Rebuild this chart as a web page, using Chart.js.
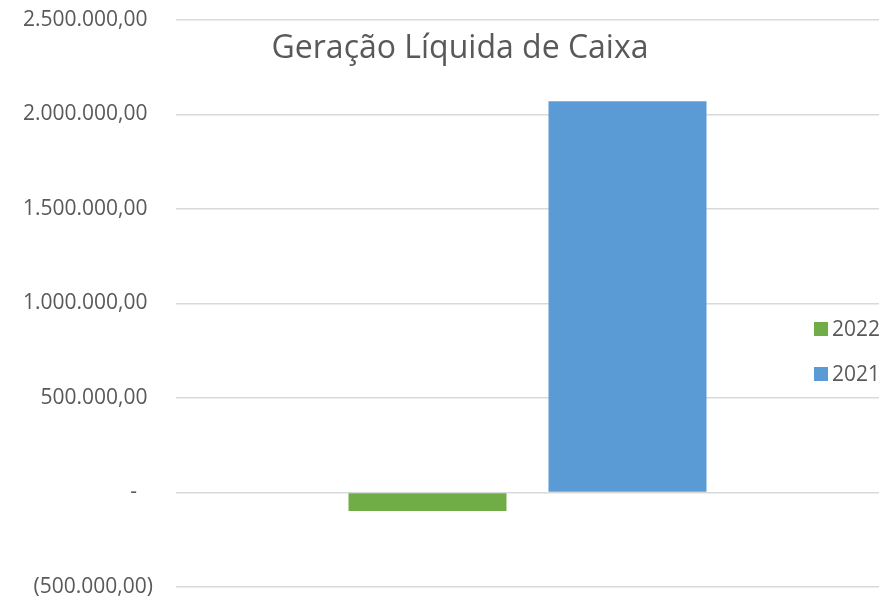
<!DOCTYPE html>
<html lang="pt-BR">
<head>
<meta charset="utf-8">
<title>Geração Líquida de Caixa</title>
<script src="https://cdn.jsdelivr.net/npm/chart.js@4/dist/chart.umd.min.js"></script>
<style>
  html, body { margin: 0; padding: 0; background: #fff; }
  #wrap { position: relative; width: 885px; height: 598px; }
</style>
</head>
<body>
<div id="wrap"><canvas id="caixaChart" width="885" height="598"></canvas></div>
<script>
const categories = [""];
const seriesLabels = ["2022", "2021"];
const values2022 = [-98000];
const values2021 = [2070000];
const seriesColors = ["#70AD47", "#5B9BD5"];
const chartTitle = "Geração Líquida de Caixa";

const FONT = "'Open Sans', sans-serif";
const TEXT = "#595959";

// accounting-style label: "-" for zero, parentheses for negatives
function fmtAcc(v) {
  if (v === 0) return "-\u2002 ";
  const s = Math.abs(v).toLocaleString("pt-BR", { minimumFractionDigits: 2, maximumFractionDigits: 2 });
  return v < 0 ? `(${s})` : s + " ";
}

// title sits inside the plot, legend floats at the right over the grid
const overlayPlugin = {
  id: "overlay",
  afterDraw(chart) {
    const { ctx } = chart;
    ctx.save();
    ctx.fillStyle = TEXT;
    ctx.font = `32px ${FONT}`;
    ctx.textAlign = "center";
    ctx.textBaseline = "alphabetic";
    ctx.fillText(chartTitle, 460, 58);

    ctx.font = `21px ${FONT}`;
    ctx.textAlign = "left";
    ctx.textBaseline = "middle";
    chart.data.datasets.forEach((ds, i) => {
      const y = 329 + i * 45;
      ctx.fillStyle = ds.backgroundColor;
      ctx.fillRect(814, y - 7, 14, 14);
      ctx.fillStyle = TEXT;
      ctx.fillText(ds.label, 832, y + 1);
    });
    ctx.restore();
  }
};

const ctx = document.getElementById("caixaChart").getContext("2d");
new Chart(ctx, {
  type: "bar",
  data: {
    labels: categories,
    datasets: [
      { label: seriesLabels[0], data: values2022, backgroundColor: seriesColors[0] },
      { label: seriesLabels[1], data: values2021, backgroundColor: seriesColors[1] }
    ]
  },
  options: {
    responsive: false,
    animation: false,
    events: [],
    categoryPercentage: 0.569,
    barPercentage: 0.79,
    layout: { padding: { top: 20, right: 6, bottom: 11, left: 0 } },
    plugins: {
      legend: { display: false },
      title: { display: false },
      tooltip: { enabled: false }
    },
    scales: {
      x: { display: false },
      y: {
        min: -500000,
        max: 2500000,
        afterFit: (scale) => {
          scale.width = 176;
          scale.paddingTop = 0;
          scale.paddingBottom = 0;
        },
        border: { display: false },
        grid: { color: "#D9D9D9", lineWidth: 1.5, drawTicks: false },
        ticks: {
          stepSize: 500000,
          padding: 23,
          color: TEXT,
          font: { family: FONT, size: 21 },
          callback: (v) => fmtAcc(v)
        }
      }
    }
  },
  plugins: [overlayPlugin]
});
</script>
</body>
</html>
